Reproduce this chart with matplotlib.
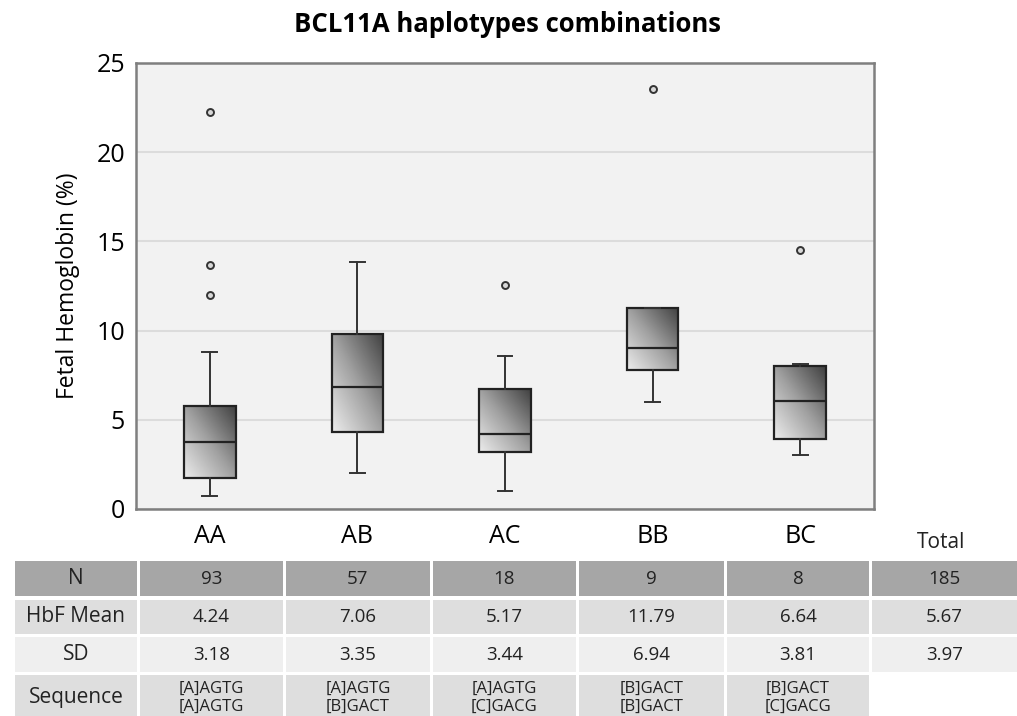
import numpy as np
import matplotlib.pyplot as plt
from matplotlib.colors import LinearSegmentedColormap
from matplotlib.patches import Rectangle

plt.rcParams['font.family'] = ['Open Sans', 'DejaVu Sans']

groups = ['AA', 'AB', 'AC', 'BB', 'BC']

# box stats
whislo = [0.73, 2.02, 1.01, 6.01, 3.02]
q1 = [1.74, 4.33, 3.20, 7.80, 3.95]
med = [3.76, 6.85, 4.21, 9.04, 6.08]
q3 = [5.79, 9.83, 6.74, 11.29, 7.99]
whishi = [8.82, 13.82, 8.60, 11.29, 8.10]
fliers = [[22.25, 13.7, 11.97], [], [12.53], [23.56], [14.49]]

# table
row_names = ['N', 'HbF Mean', 'SD', 'Sequence']
n_vals = ['93', '57', '18', '9', '8', '185']
mean_vals = ['4.24', '7.06', '5.17', '11.79', '6.64', '5.67']
sd_vals = ['3.18', '3.35', '3.44', '6.94', '3.81', '3.97']
seq_vals = ['[A]AGTG\n[A]AGTG', '[A]AGTG\n[B]GACT', '[A]AGTG\n[C]GACG',
            '[B]GACT\n[B]GACT', '[B]GACT\n[C]GACG']

fig = plt.figure(figsize=(10.17, 7.16), dpi=100)
ax = fig.add_axes([136/1017, 1-509/716, 738/1017, 446/716])
ax.set_facecolor('#f2f2f2')

stats = []
for i, g in enumerate(groups):
    stats.append(dict(label=g, whislo=whislo[i], q1=q1[i], med=med[i],
                      q3=q3[i], whishi=whishi[i], fliers=fliers[i]))

pos = np.arange(len(groups))
bw = 0.35
ax.bxp(stats, positions=pos, widths=bw, capwidths=0.1, patch_artist=True,
       boxprops=dict(facecolor='none', edgecolor='#222222', linewidth=1.6),
       medianprops=dict(color='#222222', linewidth=1.6),
       whiskerprops=dict(color='#333333', linewidth=1.4),
       capprops=dict(color='#333333', linewidth=1.4),
       flierprops=dict(marker='o', markersize=5, markerfacecolor='#d8d8d8',
                       markeredgecolor='#333333', markeredgewidth=1.4),
       zorder=3)

# gradient fill, light bottom-left to dark top-right
cmap = LinearSegmentedColormap.from_list('g', ['#ececec', '#a0a0a0', '#404040'])
u = np.linspace(0, 1, 60)
grad = (u[None, :] + u[:, None]) / 2
for i in range(len(groups)):
    ax.imshow(grad, cmap=cmap, origin='lower', aspect='auto', zorder=2,
              extent=(pos[i]-bw/2, pos[i]+bw/2, q1[i], q3[i]))

ax.set_xlim(-0.5, 4.5)
ax.set_ylim(0, 25)
ax.set_yticks([0, 5, 10, 15, 20, 25])
ax.yaxis.grid(True, color='#dcdcdc', linewidth=1.5, zorder=0)
ax.set_axisbelow(True)
ax.tick_params(axis='both', length=0, labelsize=18, pad=8)
ax.tick_params(axis='x', pad=11)
ax.set_xticks(pos)
ax.set_xticklabels(groups)
for s in ax.spines.values():
    s.set_color('#7f7f7f')
    s.set_linewidth(1.8)
ax.set_ylabel('Fetal Hemoglobin (%)', fontsize=16.5, labelpad=12)
fig.text(507/1017, 1-25/716, 'BCL11A haplotypes combinations', ha='center',
         va='center', fontsize=18.5, fontweight='bold')

# table drawn in pixel coordinates
tax = fig.add_axes([0, 0, 1, 1], zorder=-1)
tax.set_xlim(0, 1017)
tax.set_ylim(716, 0)
tax.axis('off')
col_x = [(15, 137), (140, 283), (286, 430), (433, 576), (579, 724), (727, 869), (872, 1017)]
row_y = [(561, 596), (600, 634), (637, 672), (675, 716)]
row_fc = ['#a6a6a6', '#dedede', '#efefef', '#dedede']
rows = [n_vals, mean_vals, sd_vals, seq_vals]
for r, (y0, y1) in enumerate(row_y):
    cells = [row_names[r]] + rows[r]
    for c, txt in enumerate(cells):
        x0, x1 = col_x[c]
        tax.add_patch(Rectangle((x0, y0), x1-x0, y1-y0, facecolor=row_fc[r],
                                edgecolor='none'))
        if c == 0:
            fs = 15
        elif r == 3:
            fs = 12
        else:
            fs = 13.5
        tax.text((x0+x1)/2, (y0+y1)/2 + (2 if r == 3 else 0), txt, ha='center',
                 va='center', fontsize=fs, color='#222222', linespacing=1.15)
tax.text(941, 542, 'Total', ha='center', va='center', fontsize=15, color='#222222')

fig.savefig('out.png', dpi=100)
